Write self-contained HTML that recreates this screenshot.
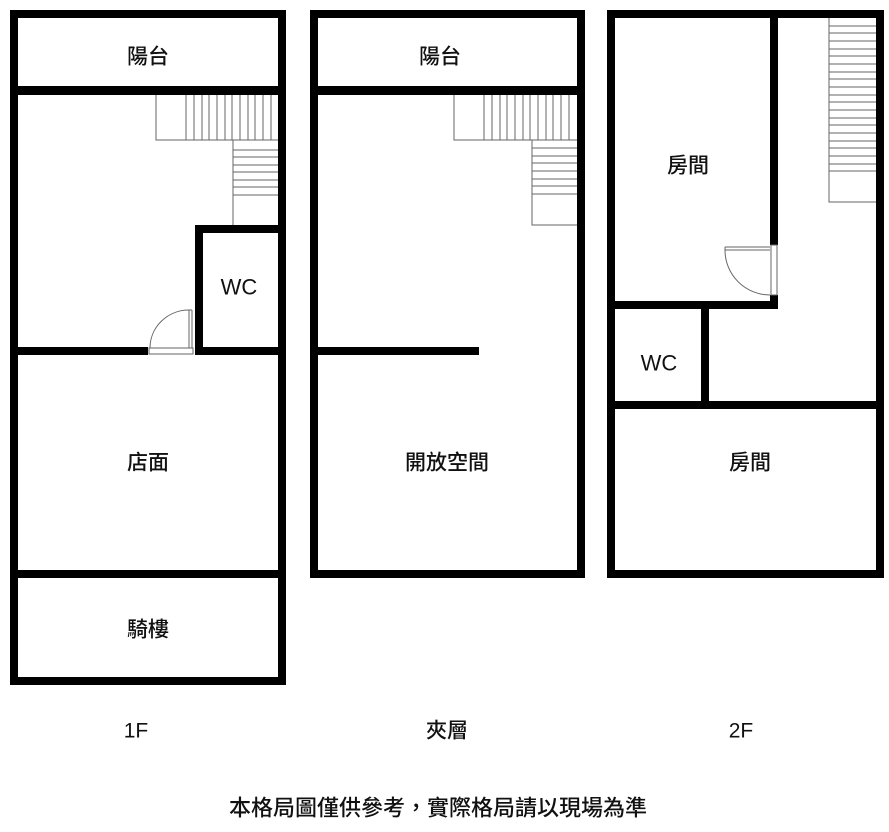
<!DOCTYPE html>
<html><head><meta charset="utf-8"><style>
html,body{margin:0;padding:0;background:#fff;}
svg{display:block;}
text{font-family:"Liberation Sans","Noto Sans CJK TC",sans-serif;fill:#111;text-anchor:middle;dominant-baseline:central;font-weight:500;}
</style></head><body>
<svg width="889" height="832" viewBox="0 0 889 832" xmlns="http://www.w3.org/2000/svg">
<g fill="#000">
<rect x="10" y="10" width="276" height="8"/>
<rect x="10" y="10" width="8" height="675"/>
<rect x="278" y="10" width="8" height="675"/>
<rect x="10" y="677" width="276" height="8"/>
<rect x="10" y="86" width="276" height="9"/>
<rect x="10" y="570" width="276" height="8"/>
<rect x="10" y="347" width="138" height="8"/>
<rect x="195" y="347" width="91" height="8"/>
<rect x="195" y="225" width="8" height="130"/>
<rect x="195" y="225" width="91" height="8"/>
<rect x="310" y="10" width="275" height="8"/>
<rect x="310" y="10" width="8" height="568"/>
<rect x="577" y="10" width="8" height="568"/>
<rect x="310" y="570" width="275" height="8"/>
<rect x="310" y="86" width="275" height="9"/>
<rect x="310" y="347" width="169" height="8"/>
<rect x="607" y="10" width="277" height="8"/>
<rect x="607" y="10" width="8" height="568"/>
<rect x="876" y="10" width="8" height="568"/>
<rect x="607" y="570" width="277" height="8"/>
<rect x="770" y="10" width="8" height="235"/>
<rect x="770" y="295" width="8" height="14"/>
<rect x="607" y="301" width="171" height="8"/>
<rect x="701" y="301" width="8" height="108"/>
<rect x="607" y="401" width="277" height="8"/>
</g>
<g stroke="#666" stroke-width="1" fill="none">
<path d="M156 95 V140 H278 M233 140 V225"/>
<path d="M186 95V140M194 95V140M202 95V140M209 95V140M217 95V140M225 95V140M232 95V140M240 95V140M248 95V140M255 95V140M263 95V140M271 95V140"/>
<path d="M233 150H278M233 157H278M233 165H278M233 172H278M233 180H278M233 187H278M233 195H278"/>
<path d="M454 95 V140 H577 M532 140 V225 H577"/>
<path d="M484 95V140M492 95V140M500 95V140M507 95V140M515 95V140M523 95V140M530 95V140M538 95V140M546 95V140M553 95V140M561 95V140M569 95V140"/>
<path d="M532 148H577M532 156H577M532 163H577M532 171H577M532 179H577M532 186H577M532 194H577"/>
<path d="M829 18 V202 H876"/>
<path d="M829 26H876M829 33H876M829 41H876M829 49H876M829 56H876M829 64H876M829 72H876M829 79H876M829 87H876M829 95H876M829 102H876M829 110H876M829 118H876M829 125H876M829 133H876M829 141H876M829 148H876M829 156H876M829 164H876M829 171H876"/>
<rect x="149" y="348" width="44" height="6"/>
<path d="M189 310 V348 M192 310 V348 M189 310 H192"/>
<path d="M150 348 A39 38 0 0 1 189 310"/>
<rect x="771" y="245" width="6" height="50"/>
<path d="M725 247 H770 M725 250 H770 M725 247 V250"/>
<path d="M725 250 A45 45 0 0 0 770 295"/>
</g>
<g font-size="21">
<text x="148" y="57">陽台</text>
<text x="440" y="57">陽台</text>
<text x="239" y="287" font-size="22">WC</text>
<text x="148" y="463">店面</text>
<text x="148" y="630">騎樓</text>
<text x="447" y="463">開放空間</text>
<text x="688" y="166">房間</text>
<text x="750" y="463">房間</text>
<text x="659" y="363" font-size="22">WC</text>
<text x="136" y="731">1F</text>
<text x="447" y="731">夾層</text>
<text x="741" y="731">2F</text>
</g>
<text x="438" y="808" font-size="22">本格局圖僅供參考，實際格局請以現場為準</text>
</svg>
</body></html>
